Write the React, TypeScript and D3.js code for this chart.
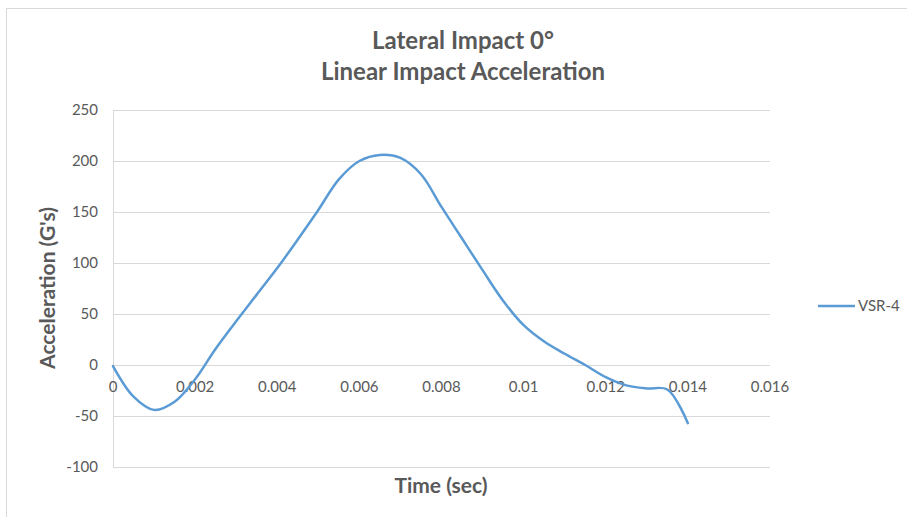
import React from "react";
import * as d3 from "d3";

const times = [0, 0.0005, 0.001, 0.0015, 0.002, 0.0025, 0.003, 0.0035, 0.004, 0.0045, 0.005, 0.0055, 0.006, 0.0065, 0.007, 0.0075, 0.008, 0.0085, 0.009, 0.0095, 0.01, 0.0105, 0.011, 0.0115, 0.012, 0.0125, 0.013, 0.0135, 0.014];
const accel = [-1, -31, -44, -36, -14, 16, 43, 69, 95, 123, 152, 182, 200, 206, 203, 187, 155, 124, 93, 63, 39, 23, 11, 0, -12, -20, -23, -24, -57];
const yTicks = [-100, -50, 0, 50, 100, 150, 200, 250];
const xTicks = [0, 0.002, 0.004, 0.006, 0.008, 0.01, 0.012, 0.014, 0.016];
const titleLines = ["Lateral Impact 0°", "Linear Impact Acceleration"];
const seriesName = "VSR-4";

const W = 907, H = 517;
const FONT = "Lato, 'Open Sans', sans-serif";
const GRAY = "#595959";

export default function App() {
  const x = d3.scaleLinear().domain([0, 0.016]).range([113, 770]);
  const y = d3.scaleLinear().domain([-100, 250]).range([467, 110]);
  const pts: [number, number][] = times.map((t, i) => [t, accel[i]]);
  const line = d3.line<[number, number]>().x(d => x(d[0])).y(d => y(d[1])).curve(d3.curveCatmullRom.alpha(0.5));
  const fmt = (v: number) => (v === 0 ? "0" : String(+v.toFixed(3)));
  return (
    <svg width={W} height={H} style={{ position: "absolute", left: 0, top: 0, background: "#fff" }}>
      <rect x={6.5} y={8.5} width={W + 20} height={H + 20} fill="#fff" stroke="#d9d9d9" />
      {titleLines.map((t, i) => (
        <text key={i} x={463} y={49 + i * 31} textAnchor="middle" fontFamily={FONT} fontWeight="bold" fontSize={24} fill={GRAY}>{t}</text>
      ))}
      {yTicks.map(v => (
        <g key={v}>
          <line x1={113} x2={770} y1={y(v) + 0.5} y2={y(v) + 0.5} stroke="#d9d9d9" />
          <text x={98} y={y(v) + 5} textAnchor="end" fontFamily={FONT} fontSize={15} fill={GRAY}>{v}</text>
        </g>
      ))}
      <line x1={113.5} x2={113.5} y1={110} y2={467} stroke="#d9d9d9" />
      {xTicks.map(v => (
        <text key={v} x={x(v)} y={392} textAnchor="middle" fontFamily={FONT} fontSize={15} fill={GRAY}>{fmt(v)}</text>
      ))}
      <path d={line(pts) || ""} fill="none" stroke="#5b9bd5" strokeWidth={2.5} strokeLinejoin="round" strokeLinecap="round" />
      <text x={441} y={493} textAnchor="middle" fontFamily={FONT} fontWeight="bold" fontSize={21} fill={GRAY}>Time (sec)</text>
      <text transform={`translate(55,288) rotate(-90)`} textAnchor="middle" fontFamily={FONT} fontWeight="bold" fontSize={21} fill={GRAY}>Acceleration (G's)</text>
      <line x1={818} x2={855} y1={306} y2={306} stroke="#5b9bd5" strokeWidth={2.5} />
      <text x={858} y={311} fontFamily={FONT} fontSize={15} fill={GRAY}>{seriesName}</text>
    </svg>
  );
}
